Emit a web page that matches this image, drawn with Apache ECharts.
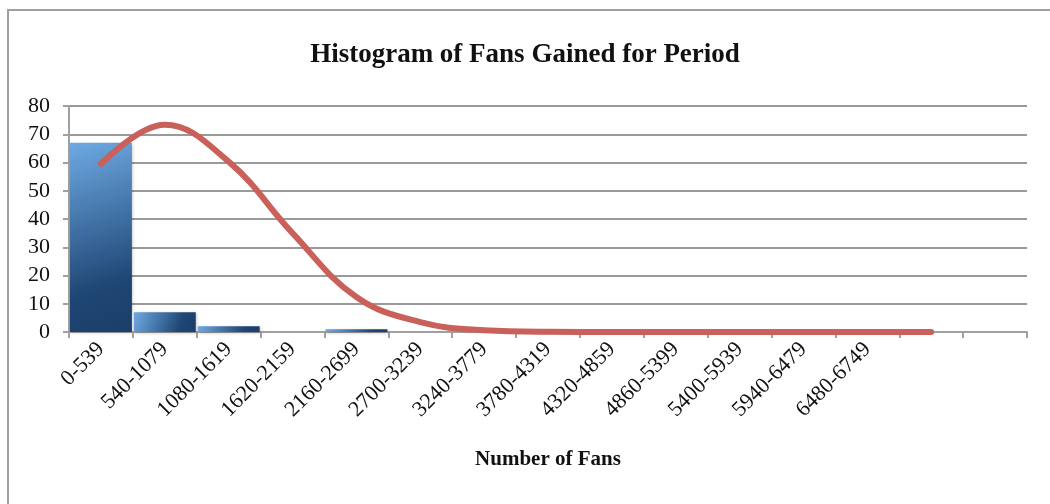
<!DOCTYPE html>
<html>
<head>
<meta charset="utf-8">
<script src="https://cdn.jsdelivr.net/npm/echarts@6/dist/echarts.min.js"></script>
<style>
  html, body { margin: 0; padding: 0; background: #fff; }
  #frame {
    position: absolute; left: 7px; top: 9px; width: 1100px; height: 600px;
    border-left: 2px solid #a0a0a0; border-top: 2px solid #a0a0a0;
  }
  #chart { position: absolute; left: 0; top: 0; width: 1050px; height: 504px; }
</style>
</head>
<body>
<div id="frame"></div>
<div id="chart"></div>
<script>
// bins (last two slots have no label)
const categories = [
  '0-539', '540-1079', '1080-1619', '1620-2159', '2160-2699', '2700-3239',
  '3240-3779', '3780-4319', '4320-4859', '4860-5399', '5400-5939',
  '5940-6479', '6480-6749', '', ''
]
// frequency per bin
const counts = [67, 7, 2, 0, 1, 0, 0, 0, 0, 0, 0, 0, 0, 0, 0]
// fitted normal curve, one point per bin except the last
const curve = [59.5, 73.4, 60.3, 35, 12.4, 3.5, 0.6, 0.05, 0, 0, 0, 0, 0, 0]
const yTicks = [0, 10, 20, 30, 40, 50, 60, 70, 80]

const serif = '"Liberation Serif", "DejaVu Serif", serif'
const chart = echarts.init(document.getElementById('chart'))

const option = {
  animation: false,
  title: {
    text: 'Histogram of Fans Gained for Period',
    left: 'center',
    top: 37,
    textStyle: { fontFamily: serif, fontWeight: 'bold', fontSize: 27, color: '#111' },
  },
  grid: { left: 69, right: 23, top: 106, bottom: 172 },
  xAxis: {
    type: 'category',
    data: categories,
    name: 'Number of Fans',
    nameLocation: 'middle',
    nameGap: 117,
    nameTextStyle: { fontFamily: serif, fontWeight: 'bold', fontSize: 21, color: '#111' },
    axisLine: { lineStyle: { color: '#a0a0a0', width: 2 } },
    axisTick: { show: true, length: 6, lineStyle: { color: '#a0a0a0', width: 2 } },
    axisLabel: {
      interval: 0,
      rotate: 45,
      margin: 14,
      fontFamily: serif,
      fontSize: 22,
      color: '#111',
    },
  },
  yAxis: {
    type: 'value',
    min: yTicks[0],
    max: yTicks[yTicks.length - 1],
    interval: 10,
    axisLine: { show: true, lineStyle: { color: '#a0a0a0', width: 2 } },
    axisTick: { show: true, length: 6, lineStyle: { color: '#a0a0a0', width: 2 } },
    axisLabel: { fontFamily: serif, fontSize: 22, color: '#111', margin: 19 },
    splitLine: { lineStyle: { color: '#9a9a9a', width: 2 } },
  },
  series: [
    {
      type: 'bar',
      data: counts,
      barCategoryGap: '3%',
      itemStyle: {
        color: new echarts.graphic.LinearGradient(0, 0, 1, 1, [
          { offset: 0, color: '#6eaae3' },
          { offset: 0.75, color: '#1e4573' },
          { offset: 1, color: '#1c3f6a' },
        ]),
        shadowColor: 'rgba(0,0,0,0.25)',
        shadowBlur: 3,
        shadowOffsetX: 1,
        shadowOffsetY: 1,
      },
      z: 2,
    },
    {
      type: 'line',
      data: curve,
      smooth: 0.4,
      symbol: 'none',
      lineStyle: { color: '#c9605a', width: 6, cap: 'round', join: 'round' },
      z: 3,
    },
  ],
}
chart.setOption(option)
</script>
</body>
</html>
